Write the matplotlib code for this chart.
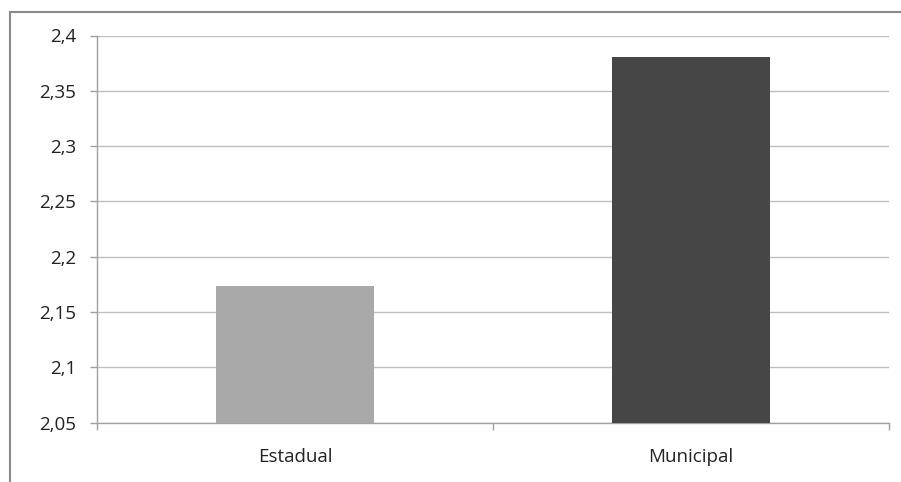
import matplotlib
matplotlib.use('Agg')
import matplotlib.pyplot as plt
from matplotlib.patches import Rectangle
from matplotlib.ticker import FuncFormatter, FixedLocator

categories = ["Estadual", "Municipal"]
values = [2.1735, 2.381]
bar_colors = ["#a9a9a9", "#464646"]
y_ticks = [2.05, 2.1, 2.15, 2.2, 2.25, 2.3, 2.35, 2.4]

plt.rcParams['font.family'] = ['Open Sans', 'DejaVu Sans']

fig = plt.figure(figsize=(9.01, 4.82), dpi=100)
ax = fig.add_axes([97 / 901, 1 - 422.5 / 482, (889 - 97) / 901, (422.5 - 35.5) / 482])

x = list(range(len(categories)))
ax.bar(x, values, width=0.4, color=bar_colors, zorder=3)

ax.set_xlim(-0.5, len(categories) - 0.5)
ax.set_ylim(y_ticks[0], y_ticks[-1])
ax.set_yticks(y_ticks)
ax.yaxis.set_major_formatter(FuncFormatter(lambda v, p: ('%g' % round(v, 2)).replace('.', ',')))
ax.grid(axis='y', color='#c0c0c0', linewidth=1.0, zorder=0)

# category boundaries as major ticks, labels on minor ticks
ax.xaxis.set_major_locator(FixedLocator([i - 0.5 for i in range(len(categories) + 1)]))
ax.xaxis.set_major_formatter(FuncFormatter(lambda v, p: ''))
ax.xaxis.set_minor_locator(FixedLocator(x))
ax.set_xticklabels(categories, minor=True)
ax.tick_params(axis='x', which='major', length=5, color='#a0a0a0', width=1)
ax.tick_params(axis='x', which='minor', length=0, pad=18, labelsize=13.5, labelcolor='#222222')
ax.tick_params(axis='y', length=5, color='#a0a0a0', width=1, pad=10, labelsize=13.5, labelcolor='#222222')

for s in ['top', 'right']:
    ax.spines[s].set_visible(False)
for s in ['left', 'bottom']:
    ax.spines[s].set_color('#a0a0a0')
    ax.spines[s].set_linewidth(1.0)

# outer chart border (only left and top are visible in the crop)
fig.add_artist(Rectangle((10 / 901, -0.1), 1.2, 1 - 12 / 482 + 0.1, transform=fig.transFigure,
                         fill=False, edgecolor='#8a8a8a', linewidth=1.5, clip_on=False))

fig.savefig('out.png', dpi=100)
plt.close()
